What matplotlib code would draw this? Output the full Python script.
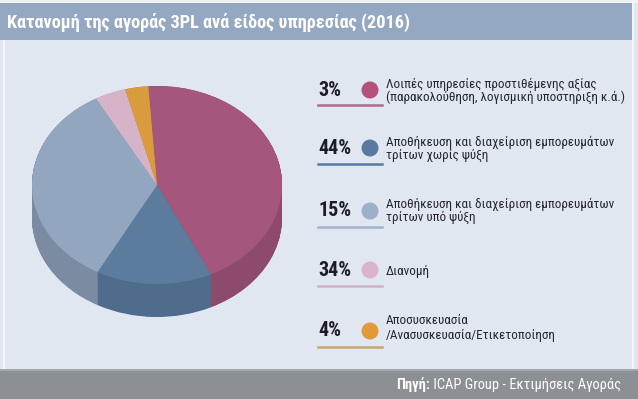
import matplotlib
matplotlib.use("Agg")
import matplotlib.pyplot as plt
from matplotlib.patches import Rectangle, Ellipse
from matplotlib.lines import Line2D

# ---- data ----
title = "Κατανομή της αγοράς 3PL ανά είδος υπηρεσίας (2016)"
source_bold = "Πηγή:"
source_rest = " ICAP Group - Εκτιμήσεις Αγοράς"

# pie slices (clockwise from the top)
slice_values = [44, 15, 34, 4, 3]
slice_top_colors = ["#a5567c", "#5c7c9e", "#93a6bf", "#d6b3c6", "#d99b3d"]
slice_side_colors = ["#8e4a6c", "#4f6c8d", "#7a8ba2", "#b999aa", "#b9843a"]

# legend (as printed)
legend_pcts = ["3%", "44%", "15%", "34%", "4%"]
legend_texts = [
    "Λοιπές υπηρεσίες προστιθέμενης αξίας\n(παρακολούθηση, λογισμική υποστηριξη κ.ά.)",
    "Αποθήκευση και διαχείριση εμπορευμάτων\nτρίτων χωρίς ψύξη",
    "Αποθήκευση και διαχείριση εμπορευμάτων\nτρίτων υπό ψύξη",
    "Διανομή",
    "Αποσυσκευασία\n/Ανασυσκευασία/Ετικετοποίηση",
]
legend_dot_colors = ["#b5527c", "#5a78a0", "#9db0ca", "#dbb4c7", "#e09a38"]
legend_line_colors = ["#b06a8a", "#5b79a0", "#a2b3ca", "#d0b2c3", "#c7a76a"]

NARROW = ["Roboto Condensed", "Roboto"]

W, H = 638, 399
fig = plt.figure(figsize=(W / 100, H / 100), dpi=100)
fig.patch.set_facecolor("#e1e7f1")
renderer = fig.canvas.get_renderer()

def fx(px):
    return px / W

def fy(py):
    return 1 - py / H

def fit_size(s, target, weight="normal", s0=10.0):
    t = fig.text(0, 0, s, fontsize=s0, family=NARROW, fontweight=weight)
    w = t.get_window_extent(renderer).width
    t.remove()
    return s0 * target / w

def rect(x0, y0, x1, y1, color, z=0):
    fig.add_artist(Rectangle((fx(x0), fy(y1)), fx(x1) - fx(x0), fy(y0) - fy(y1),
                             transform=fig.transFigure, facecolor=color,
                             edgecolor="none", zorder=z))

# frame lines
rect(0, 0, 638, 3, "#eef2f7")
rect(3, 40, 5, 370, "#f3f6fa")
rect(632, 0, 634, 370, "#f3f6fa")
# title bar
rect(0, 3, 632, 40, "#95a8c1")
ts = min(15.0, fit_size(title, 405, "bold"))
fig.text(fx(7), fy(22), title, color="white", fontsize=ts, fontweight="bold",
         family=NARROW, va="center", ha="left")
# footer bar
rect(0, 369, 638, 371, "#a2a6ad")
rect(0, 371, 638, 399, "#8c8f94")

fs = min(10.5, fit_size("Πηγή: ICAP Group - Εκτιμήσεις Αγοράς", 224, "normal"))
t_rest = fig.text(fx(621), fy(385), source_rest, color="white", fontsize=fs,
                  family=NARROW, va="center", ha="right")
bb = t_rest.get_window_extent(renderer)
fig.text(bb.x0 / W, fy(385), source_bold, color="white", fontsize=fs,
         family=NARROW, fontweight="bold", va="center", ha="right")

# ---- 3D pie ----
cx, cy, rx, ry, depth = 157, 185, 125, 99, 33
ax0, ax1, ay0, ay1 = 10, 300, 45, 365
ax = fig.add_axes([fx(ax0), fy(ay1), fx(ax1) - fx(ax0), fy(ay0) - fy(ay1)])
d = depth / ry
n = 60
for i in range(n + 1):
    off = d * (1 - i / n)
    ax.pie(slice_values, colors=slice_side_colors, startangle=94, counterclock=False,
           center=(0, -off), wedgeprops=dict(linewidth=0, antialiased=True))
ax.pie(slice_values, colors=slice_top_colors, startangle=94, counterclock=False,
       center=(0, 0), wedgeprops=dict(linewidth=0))
ax.set_aspect("auto")
ax.set_xlim((ax0 - cx) / rx, (ax1 - cx) / rx)
ax.set_ylim((cy - ay1) / ry, (cy - ay0) / ry)
ax.axis("off")

# ---- legend ----
rows = [
    (90, 105, [84, 97]),
    (148, 164, [142, 155]),
    (211, 227, [204, 217]),
    (270, 286, [272]),
    (331, 347, [321, 335]),
]
ls = min(9.5, fit_size("(παρακολούθηση, λογισμική υποστηριξη κ.ά.)", 238))
rdot = 8.5
for k, (yc, yl, tys) in enumerate(rows):
    fig.text(fx(318), fy(yc), legend_pcts[k], fontsize=14.5, fontweight="bold",
             family=NARROW, color="#1c1c24", va="center", ha="left")
    fig.add_artist(Ellipse((fx(370), fy(yc)), 2 * rdot / W, 2 * rdot / H,
                           transform=fig.transFigure,
                           facecolor=legend_dot_colors[k], edgecolor="none"))
    fig.add_artist(Line2D([fx(318), fx(382)], [fy(yl), fy(yl)], color=legend_line_colors[k],
                          linewidth=1.8, transform=fig.transFigure))
    lines = legend_texts[k].split("\n")
    for ln, ty in zip(lines, tys):
        fig.text(fx(386), fy(ty), ln, fontsize=ls, family=NARROW, color="#26262e",
                 va="center", ha="left")

fig.savefig("out.png", dpi=100, facecolor=fig.get_facecolor())
